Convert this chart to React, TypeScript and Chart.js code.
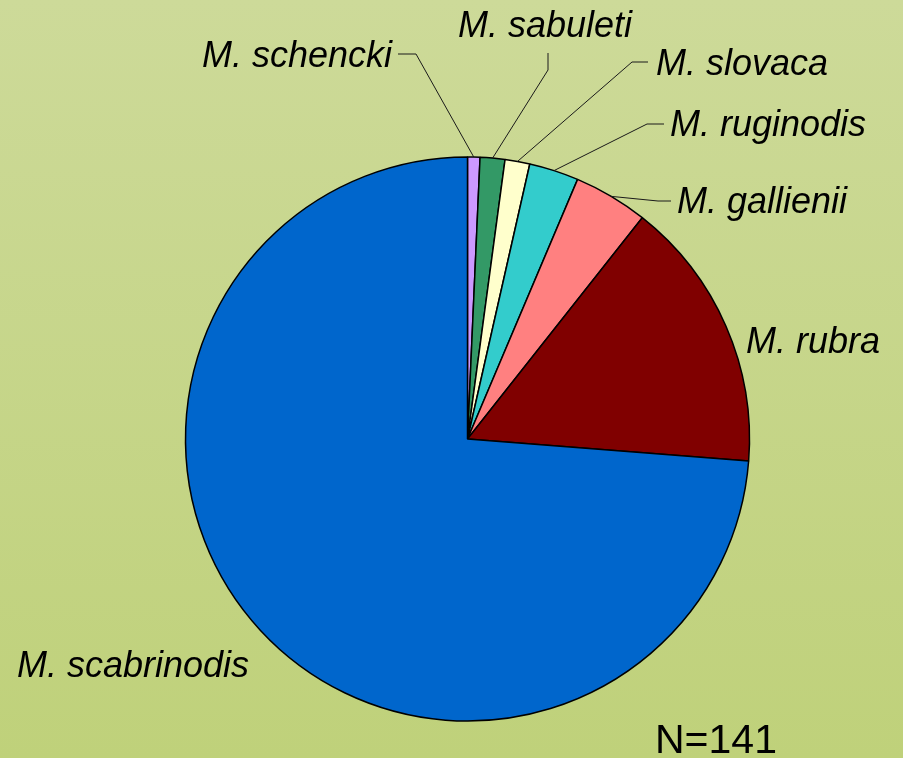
import React, { useEffect, useRef } from "react";
import { Chart, registerables } from "chart.js";

Chart.register(...registerables);

const species = [
  "M. schencki",
  "M. sabuleti",
  "M. slovaca",
  "M. ruginodis",
  "M. gallienii",
  "M. rubra",
  "M. scabrinodis",
];
const counts = [1, 2, 2, 4, 6, 22, 104];
const sliceColors = ["#CC99FF", "#339966", "#FFFFCC", "#33CCCC", "#FF8080", "#800000", "#0066CC"];
const totalLabel = "N=141";

// label layout: text left x, baseline y, and leader elbow points (empty = no leader)
const labelLayout: { x: number; y: number; leader: number[][] }[] = [
  { x: 202, y: 67, leader: [[398, 54], [416, 54]] },
  { x: 458, y: 37, leader: [[548, 53], [548, 70]] },
  { x: 656, y: 75, leader: [[648, 62], [632, 62]] },
  { x: 670, y: 136, leader: [[664, 124], [647, 124]] },
  { x: 677, y: 213, leader: [[671, 201], [658, 201]] },
  { x: 746, y: 353, leader: [] },
  { x: 17, y: 677, leader: [] },
];

const bgPlugin = {
  id: "bgGradient",
  beforeDraw(chart: any) {
    const { ctx, width, height } = chart;
    const g = ctx.createLinearGradient(0, 0, 0, height);
    g.addColorStop(0, "#CDDA99");
    g.addColorStop(1, "#BFD17A");
    ctx.save();
    ctx.fillStyle = g;
    ctx.fillRect(0, 0, width, height);
    ctx.restore();
  },
};

const labelPlugin = {
  id: "pieLabels",
  afterDraw(chart: any) {
    const { ctx } = chart;
    const meta = chart.getDatasetMeta(0);
    ctx.save();
    meta.data.forEach((arc: any, i: number) => {
      const lay = labelLayout[i];
      if (!lay) return;
      const { x, y, startAngle, endAngle, outerRadius } = arc.getProps(
        ["x", "y", "startAngle", "endAngle", "outerRadius"],
        true
      );
      if (lay.leader.length) {
        const mid = (startAngle + endAngle) / 2;
        const px = x + Math.cos(mid) * outerRadius;
        const py = y + Math.sin(mid) * outerRadius;
        ctx.beginPath();
        ctx.strokeStyle = "#1a1a1a";
        ctx.lineWidth = 1;
        ctx.moveTo(lay.leader[0][0], lay.leader[0][1]);
        for (let k = 1; k < lay.leader.length; k++) ctx.lineTo(lay.leader[k][0], lay.leader[k][1]);
        ctx.lineTo(px, py);
        ctx.stroke();
      }
      ctx.fillStyle = "#000000";
      ctx.font = "italic 36px 'Liberation Sans', Arial, sans-serif";
      ctx.textAlign = "left";
      ctx.textBaseline = "alphabetic";
      ctx.fillText(species[i], lay.x, lay.y);
    });
    ctx.font = "41px 'Liberation Sans', Arial, sans-serif";
    ctx.fillStyle = "#000000";
    ctx.fillText(totalLabel, 655, 753);
    ctx.restore();
  },
};

export default function App() {
  const ref = useRef<HTMLCanvasElement>(null);
  useEffect(() => {
    document.body.style.margin = "0";
    const chart = new Chart(ref.current!, {
      type: "pie",
      data: {
        labels: species,
        datasets: [
          {
            data: counts,
            backgroundColor: sliceColors,
            borderColor: "#000000",
            borderWidth: 1.5,
          },
        ],
      },
      options: {
        responsive: false,
        animation: false,
        radius: 282,
        layout: { padding: { left: 32, right: 0, top: 120, bottom: 0 } },
        plugins: {
          legend: { display: false },
          tooltip: { enabled: false },
        },
      } as any,
      plugins: [bgPlugin, labelPlugin],
    });
    return () => chart.destroy();
  }, []);
  return (
    <div style={{ position: "absolute", left: 0, top: 0, width: 903, height: 758 }}>
      <canvas ref={ref} width={903} height={758} />
    </div>
  );
}
